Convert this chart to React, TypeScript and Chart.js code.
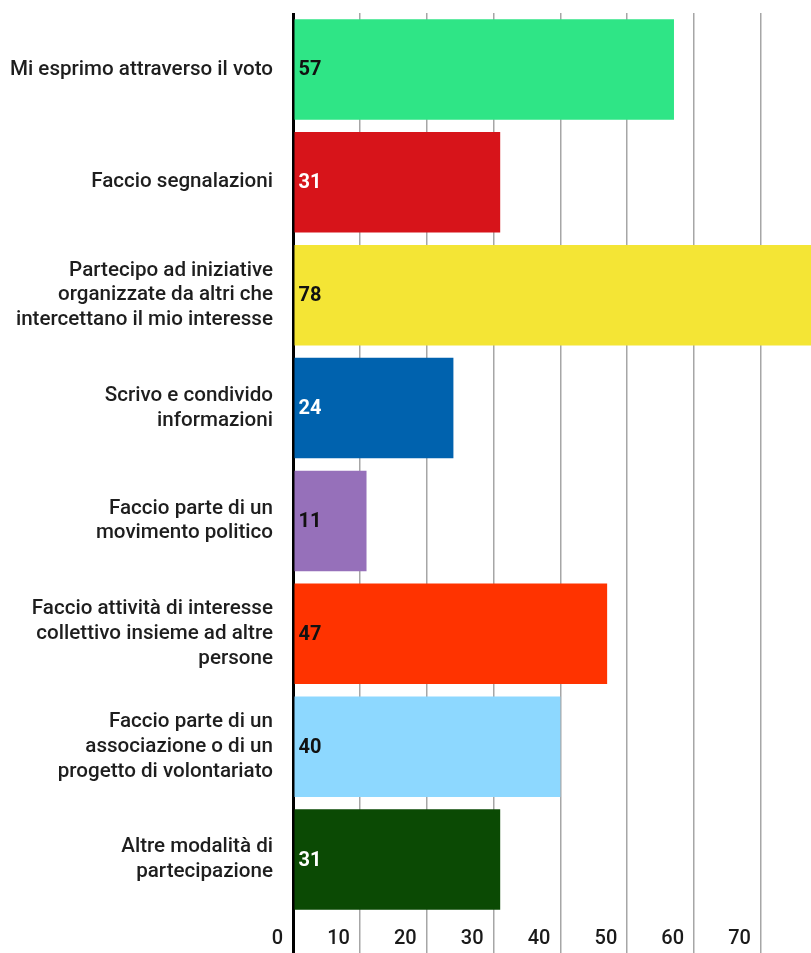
import React, { useEffect, useRef } from "react";
import { Chart, registerables } from "chart.js";

Chart.register(...registerables);

const categories: string[][] = [
  ["Mi esprimo attraverso il voto"],
  ["Faccio segnalazioni"],
  ["Partecipo ad iniziative", "organizzate da altri che", "intercettano il mio interesse"],
  ["Scrivo e condivido", "informazioni"],
  ["Faccio parte di un", "movimento politico"],
  ["Faccio attività di interesse", "collettivo insieme ad altre", "persone"],
  ["Faccio parte di un", "associazione o di un", "progetto di volontariato"],
  ["Altre modalità di", "partecipazione"],
];

const values: number[] = [57, 31, 78, 24, 11, 47, 40, 31];

const barColors: string[] = [
  "#2FE586",
  "#D7141A",
  "#F4E535",
  "#0062AE",
  "#9670BA",
  "#FF3300",
  "#8DD8FF",
  "#0B4A04",
];

const valueLabelColors: string[] = [
  "#111111",
  "#ffffff",
  "#111111",
  "#ffffff",
  "#111111",
  "#111111",
  "#111111",
  "#ffffff",
];

const xTickValues: number[] = [0, 10, 20, 30, 40, 50, 60, 70];
const xMax = 77.5;

const valueLabelPlugin = {
  id: "valueLabels",
  afterDatasetsDraw(chart: any) {
    const ctx = chart.ctx;
    const meta = chart.getDatasetMeta(0);
    ctx.save();
    ctx.font = "bold 20px Roboto";
    ctx.textAlign = "left";
    ctx.textBaseline = "middle";
    meta.data.forEach((bar: any, i: number) => {
      const p = bar.getProps(["y", "base"], true);
      ctx.fillStyle = valueLabelColors[i];
      ctx.fillText(String(values[i]), p.base + 4, p.y + 1);
    });
    ctx.restore();
  },
};

export default function App() {
  const ref = useRef<HTMLCanvasElement | null>(null);

  useEffect(() => {
    document.body.style.margin = "0";
    const canvas = ref.current;
    if (!canvas) return;
    const chart = new Chart(canvas, {
      type: "bar",
      data: {
        labels: categories,
        datasets: [
          {
            data: values,
            backgroundColor: barColors,
            borderWidth: 0,
            barPercentage: 0.89,
            categoryPercentage: 1,
          },
        ],
      },
      options: {
        indexAxis: "y",
        animation: false,
        responsive: false,
        maintainAspectRatio: false,
        layout: { padding: { top: 13, right: 0, bottom: 0, left: 0 } },
        plugins: {
          legend: { display: false },
          tooltip: { enabled: false },
        },
        scales: {
          x: {
            type: "linear",
            min: 0,
            max: xMax,
            afterBuildTicks(scale: any) {
              scale.ticks = xTickValues.map((v) => ({ value: v }));
            },
            afterFit(scale: any) {
              scale.height = 37;
              scale.paddingLeft = 0;
              scale.paddingRight = 0;
            },
            grid: {
              color: (c: any) => (c.tick && c.tick.value === 0 ? "#000000" : "#a6a6a6"),
              lineWidth: (c: any) => (c.tick && c.tick.value === 0 ? 3 : 1.5),
              drawTicks: true,
              tickLength: 37,
              tickColor: (c: any) => (c.tick && c.tick.value === 0 ? "#000000" : "#a6a6a6"),
              tickWidth: (c: any) => (c.tick && c.tick.value === 0 ? 3 : 1.5),
            },
            border: { display: false },
            ticks: {
              align: "end",
              padding: -26,
              color: "#1a1a1a",
              font: { family: "Roboto", size: 20, weight: "500" },
              maxRotation: 0,
              autoSkip: false,
              callback: (v: any) => String(v) + "  ",
            },
          },
          y: {
            type: "category",
            afterFit(scale: any) {
              scale.width = 293;
              scale.paddingTop = 0;
              scale.paddingBottom = 0;
            },
            grid: { display: false, drawTicks: false, tickLength: 0 },
            border: { display: false },
            ticks: {
              padding: 20,
              color: "#1e1e1e",
              font: { family: "Roboto", size: 20.6, weight: "500", lineHeight: 1.2 },
              autoSkip: false,
            },
          },
        },
      },
      plugins: [valueLabelPlugin],
    } as any);
    return () => chart.destroy();
  }, []);

  return (
    <div style={{ width: 811, height: 953 }}>
      <canvas ref={ref} width={811} height={953} style={{ display: "block" }} />
    </div>
  );
}
